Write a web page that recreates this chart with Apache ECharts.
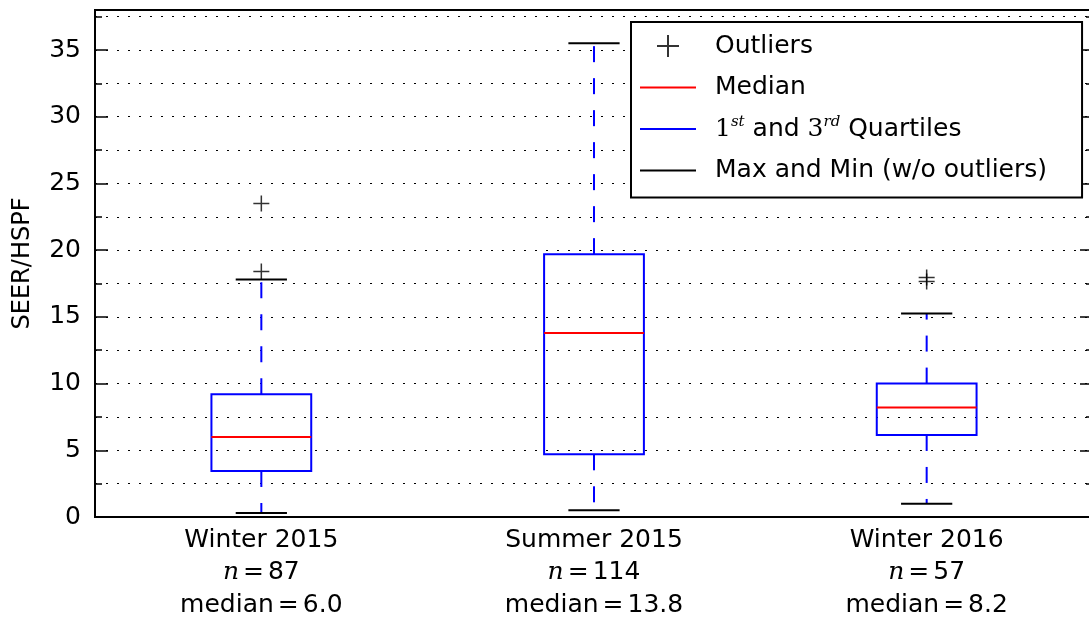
<!DOCTYPE html>
<html>
<head>
<meta charset="UTF-8">
<title>SEER/HSPF by season</title>
<script src="https://cdn.jsdelivr.net/npm/echarts@6/dist/echarts.min.js"></script>
<style>
  html, body { margin: 0; padding: 0; background: #fff; }
  #chart { width: 1089px; height: 619px; }
</style>
</head>
<body>
<div id="chart"></div>
<script>
// data
var categories = ['Winter 2015', 'Summer 2015', 'Winter 2016'];
var counts = [87, 114, 57];
var whiskerLow = [0.3, 0.5, 1.0];
var quartile1 = [3.45, 4.7, 6.15];
var medians = [6.0, 13.8, 8.2];
var quartile3 = [9.2, 19.7, 10.0];
var whiskerHigh = [17.8, 35.5, 15.25];
var outlierCat = [0, 0, 2, 2];
var outlierVal = [18.4, 23.5, 17.65, 17.95];

var legendNames = ['Outliers', 'Median', 'Quartiles', 'MaxMin'];
var legendLabels = ['Outliers', 'Median', '{cm|1}{sup|st} and {cm|3}{sup|rd} Quartiles', 'Max and Min (w/o outliers)'];

var FONT = 'DejaVu Sans';
var FS = 25;
var plusIcon = 'path://M0,0M17,13H39V15H17ZM27,3H29V25H27ZM70,28';
var lineIcon = 'path://M0,0M0,13H56V15H0ZM70,28';
var plusSymbol = 'path://M0,7.25H16V8.75H0ZM7.25,0H8.75V16H7.25Z';

var boxData = categories.map(function (c, i) {
    return [i, whiskerLow[i], quartile1[i], medians[i], quartile3[i], whiskerHigh[i]];
});
var outlierData = outlierCat.map(function (c, k) { return [c, outlierVal[k]]; });

// box + dashed whiskers
function boxItem(params, api) {
    var i = api.value(0);
    var band = api.size([1, 0])[0];
    var pLow = api.coord([i, api.value(1)]);
    var pQ1 = api.coord([i, api.value(2)]);
    var pQ3 = api.coord([i, api.value(4)]);
    var pHigh = api.coord([i, api.value(5)]);
    var half = band * 0.15;
    var dash = { stroke: '#0000ff', lineWidth: 2, lineDash: [16, 16] };
    return {
        type: 'group',
        children: [
            { type: 'line', shape: { x1: pQ3[0], y1: pQ3[1], x2: pHigh[0], y2: pHigh[1] }, style: dash },
            { type: 'line', shape: { x1: pQ1[0], y1: pQ1[1], x2: pLow[0], y2: pLow[1] }, style: dash },
            { type: 'rect', shape: { x: pQ3[0] - half, y: pQ3[1], width: 2 * half, height: pQ1[1] - pQ3[1] },
              style: { fill: 'transparent', stroke: '#0000ff', lineWidth: 2 } }
        ]
    };
}
// max / min caps
function capItem(params, api) {
    var i = api.value(0);
    var half = api.size([1, 0])[0] * 0.077;
    var pLow = api.coord([i, api.value(1)]);
    var pHigh = api.coord([i, api.value(5)]);
    var st = { stroke: '#000', lineWidth: 2 };
    return {
        type: 'group',
        children: [
            { type: 'line', shape: { x1: pLow[0] - half, y1: pLow[1], x2: pLow[0] + half, y2: pLow[1] }, style: st },
            { type: 'line', shape: { x1: pHigh[0] - half, y1: pHigh[1], x2: pHigh[0] + half, y2: pHigh[1] }, style: st }
        ]
    };
}
// median line
function medianItem(params, api) {
    var i = api.value(0);
    var half = api.size([1, 0])[0] * 0.15;
    var p = api.coord([i, api.value(3)]);
    return { type: 'line', shape: { x1: p[0] - half, y1: p[1], x2: p[0] + half, y2: p[1] },
             style: { stroke: '#ff0000', lineWidth: 2 } };
}

var gridLine = { show: true, lineStyle: { color: '#000', width: 1, type: [2, 9] } };

function yAxisDef(pos, interval, tickLen, withLabels, withSplit) {
    return {
        type: 'value', min: 0, max: 38, interval: interval, position: pos,
        axisLine: { show: true, lineStyle: { color: '#000', width: 2 } },
        axisTick: { show: true, inside: true, length: tickLen, lineStyle: { color: '#000', width: 1.5 } },
        axisLabel: withLabels ? {
            show: true, fontFamily: FONT, fontSize: FS, color: '#000', margin: 14,
            formatter: function (v) { return v % 5 === 0 ? String(v) : ''; }
        } : { show: false },
        splitLine: withSplit ? gridLine : { show: false }
    };
}

var yAxes = [
    yAxisDef('left', 5, 13, true, false),
    yAxisDef('left', 2.5, 7, false, true),
    yAxisDef('right', 5, 13, false, false),
    yAxisDef('right', 2.5, 7, false, false)
];
yAxes[0].name = 'SEER/HSPF';
yAxes[0].nameLocation = 'middle';
yAxes[0].nameGap = 60;
yAxes[0].nameTextStyle = { fontFamily: FONT, fontSize: FS - 1, color: '#000' };

var myChart = echarts.init(document.getElementById('chart'), null, { renderer: 'canvas' });
var option = {
    animation: false,
    backgroundColor: '#fff',
    textStyle: { fontFamily: FONT },
    grid: { left: 95, width: 998, top: 10, height: 507, containLabel: false, outerBoundsMode: 'none',
            show: true, borderColor: '#000', borderWidth: 2 },
    legend: {
        orient: 'vertical', left: 631, top: 22,
        padding: [10, 35, 13, 9],
        backgroundColor: '#fff', borderColor: '#000', borderWidth: 2, borderRadius: 0,
        itemWidth: 70, itemHeight: 28, itemGap: 13.5,
        itemStyle: { borderWidth: 0 },
        selectedMode: false,
        textStyle: {
            fontFamily: FONT, fontSize: FS, color: '#000', lineHeight: 28,
            rich: {
                cm: { fontFamily: 'DejaVu Serif', fontSize: FS, color: '#000' },
                sup: { fontFamily: 'DejaVu Serif', fontStyle: 'italic', fontSize: 15, color: '#000', verticalAlign: 'top' }
            }
        },
        formatter: function (name) { return legendLabels[legendNames.indexOf(name)]; },
        data: [
            { name: 'Outliers', icon: plusIcon },
            { name: 'Median', icon: lineIcon },
            { name: 'Quartiles', icon: lineIcon },
            { name: 'MaxMin', icon: lineIcon }
        ]
    },
    xAxis: [{
        type: 'category', data: categories, position: 'bottom', boundaryGap: true,
        axisLine: { lineStyle: { color: '#000', width: 2 } },
        axisTick: { inside: true, alignWithLabel: true, length: 12, lineStyle: { color: '#000', width: 1.5 } },
        axisLabel: {
            interval: 0, margin: 7, fontFamily: FONT, fontSize: FS, lineHeight: 32.5, color: '#000',
            formatter: function (value, index) {
                return value + '\n{it|n}{eq|=}' + counts[index] + '\nmedian{eq|=}' + medians[index].toFixed(1);
            },
            rich: {
                it: { fontFamily: 'DejaVu Serif', fontStyle: 'italic', fontSize: FS, lineHeight: 32.5, color: '#000' },
                eq: { fontFamily: FONT, fontSize: FS, lineHeight: 32.5, color: '#000', padding: [0, 4] }
            }
        },
        splitLine: { show: false }
    }, {
        type: 'category', data: categories, position: 'top', boundaryGap: true,
        axisLine: { show: true, lineStyle: { color: '#000', width: 2 } },
        axisTick: { inside: true, alignWithLabel: true, length: 12, lineStyle: { color: '#000', width: 1.5 } },
        axisLabel: { show: false },
        splitLine: { show: false }
    }],
    yAxis: yAxes,
    series: [
        { name: 'Quartiles', type: 'custom', renderItem: boxItem, data: boxData,
          encode: { x: 0, y: [1, 2, 3, 4, 5] }, itemStyle: { color: '#0000ff' }, z: 3 },
        { name: 'MaxMin', type: 'custom', renderItem: capItem, data: boxData,
          encode: { x: 0, y: [1, 5] }, itemStyle: { color: '#000' }, z: 4 },
        { name: 'Median', type: 'custom', renderItem: medianItem, data: boxData,
          encode: { x: 0, y: 3 }, itemStyle: { color: '#ff0000' }, z: 5 },
        { name: 'Outliers', type: 'scatter', data: outlierData, symbol: plusSymbol, symbolSize: 16,
          itemStyle: { color: '#000' }, z: 6 }
    ]
};
myChart.setOption(option);
</script>
</body>
</html>
